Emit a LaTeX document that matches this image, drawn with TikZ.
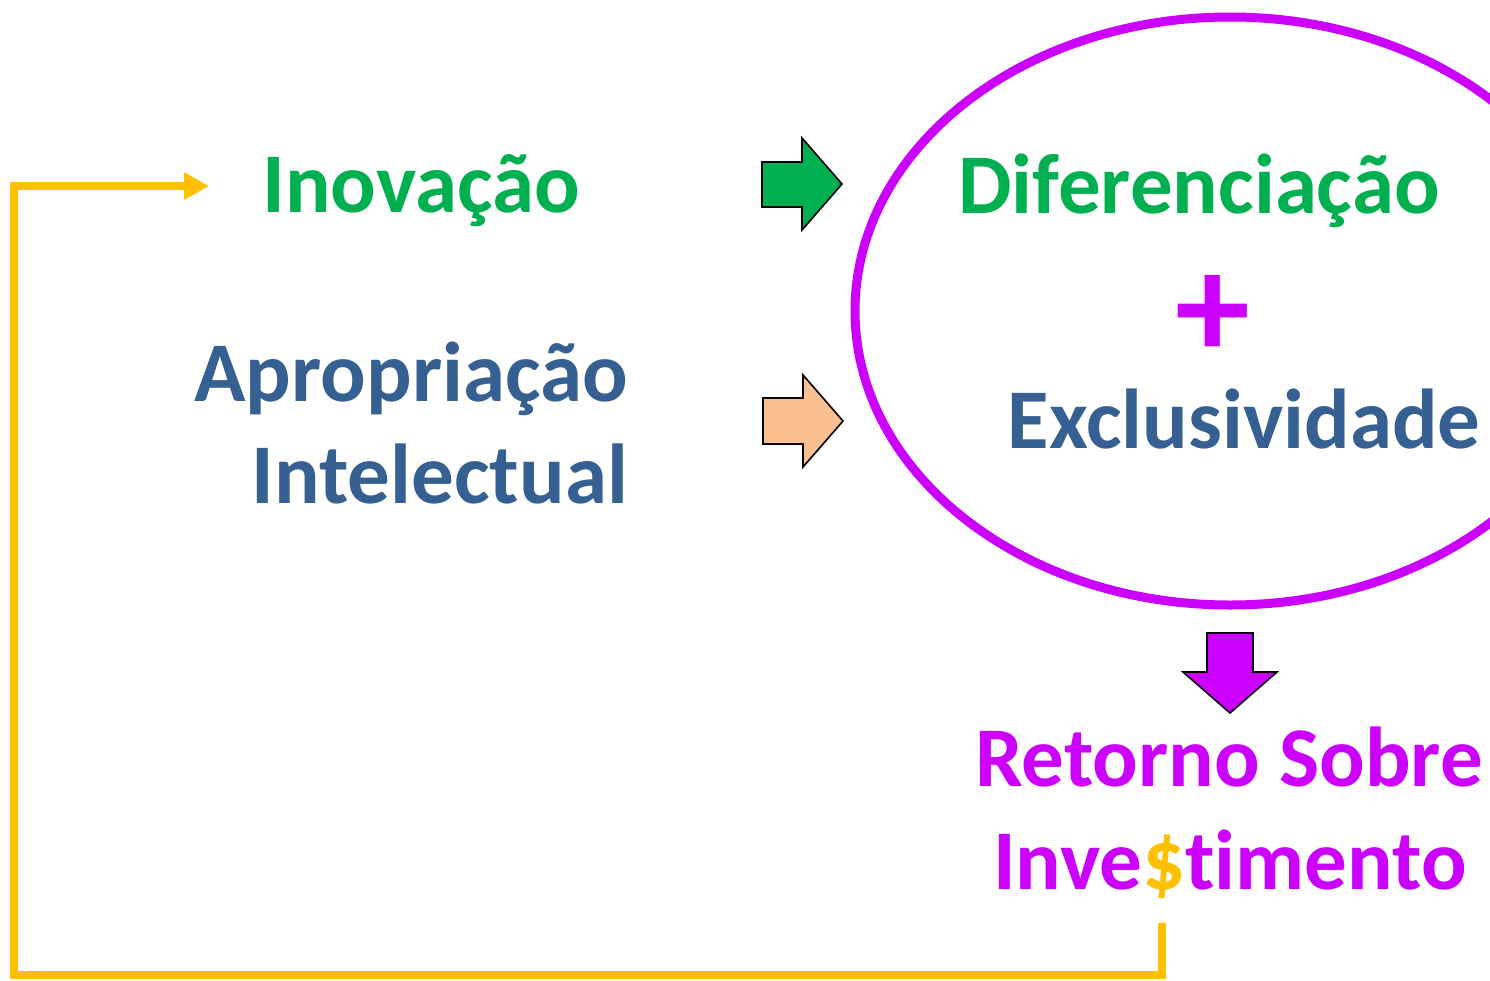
\documentclass[tikz,border=0pt]{standalone}
\usepackage{fontspec}
\setmainfont{Carlito}[Ligatures={NoCommon,TeX}]
\usetikzlibrary{arrows.meta}
\definecolor{cgreen}{HTML}{00B050}
\definecolor{cblue}{HTML}{376092}
\definecolor{cpurple}{HTML}{CC00FF}
\definecolor{cyellow}{HTML}{FFC000}
\definecolor{cpeach}{HTML}{FAC090}
\begin{document}
\begin{tikzpicture}[x=1pt,y=-1pt,
  lbl/.style={inner sep=0pt,font=\fontsize{85}{85}\selectfont\bfseries},
  blockarrow/.style={draw=black,line width=1.6pt,line join=miter},
  loopline/.style={draw=cyellow,line width=8pt,-{Triangle[length=25pt,width=26pt]}}]
\useasboundingbox (0,0) rectangle (1490,980);
\clip (0,0) rectangle (1490,980);
\fill[white] (0,0) rectangle (1490,980);
% ellipse
\draw[cpurple,line width=9pt] (1230,311) ellipse [x radius=375, y radius=294];
% texts
\node[lbl,text=cgreen,anchor=base] (inov) at (421,212) {Inovação};
\node[lbl,text=cblue,anchor=base east] (aprop) at (628,401) {Apropriação};
\node[lbl,text=cblue,anchor=base east] (intel) at (628,503) {Intelectual};
\node[lbl,text=cgreen,anchor=base] (difer) at (1199,213) {Diferenciação};
\node[inner sep=0pt,text=cpurple,anchor=base,font=\fontsize{150}{150}\selectfont\bfseries] (plus) at (1213,358) {+};
\node[lbl,text=cblue,anchor=base] (exclu) at (1244,448) {Exclusividade};
\node[lbl,text=cpurple,anchor=base] (retor) at (1229,786) {Retorno Sobre};
\node[lbl,text=cpurple,anchor=base] (inves) at (1230,889) {Inve{\color{cyellow}\$}timento};
% block arrows
\filldraw[blockarrow,fill=cgreen] (762,162) -- (802,162) -- (802,138) -- (842,184) -- (802,230) -- (802,207) -- (762,207) -- cycle;
\filldraw[blockarrow,fill=cpeach] (763,398) -- (803,398) -- (803,375) -- (843,421) -- (803,467) -- (803,444) -- (763,444) -- cycle;
\filldraw[blockarrow,fill=cpurple] (1207,633) -- (1253,633) -- (1253,672) -- (1277,672) -- (1230,713) -- (1183,672) -- (1207,672) -- cycle;
% loop connector
\coordinate (dollarfoot) at (1162,923);
\coordinate (loopend) at (209,186);
\draw[loopline] (dollarfoot) -- (1162,975) -- (14,975) -- (14,186) -- (loopend);
\end{tikzpicture}
\end{document}
